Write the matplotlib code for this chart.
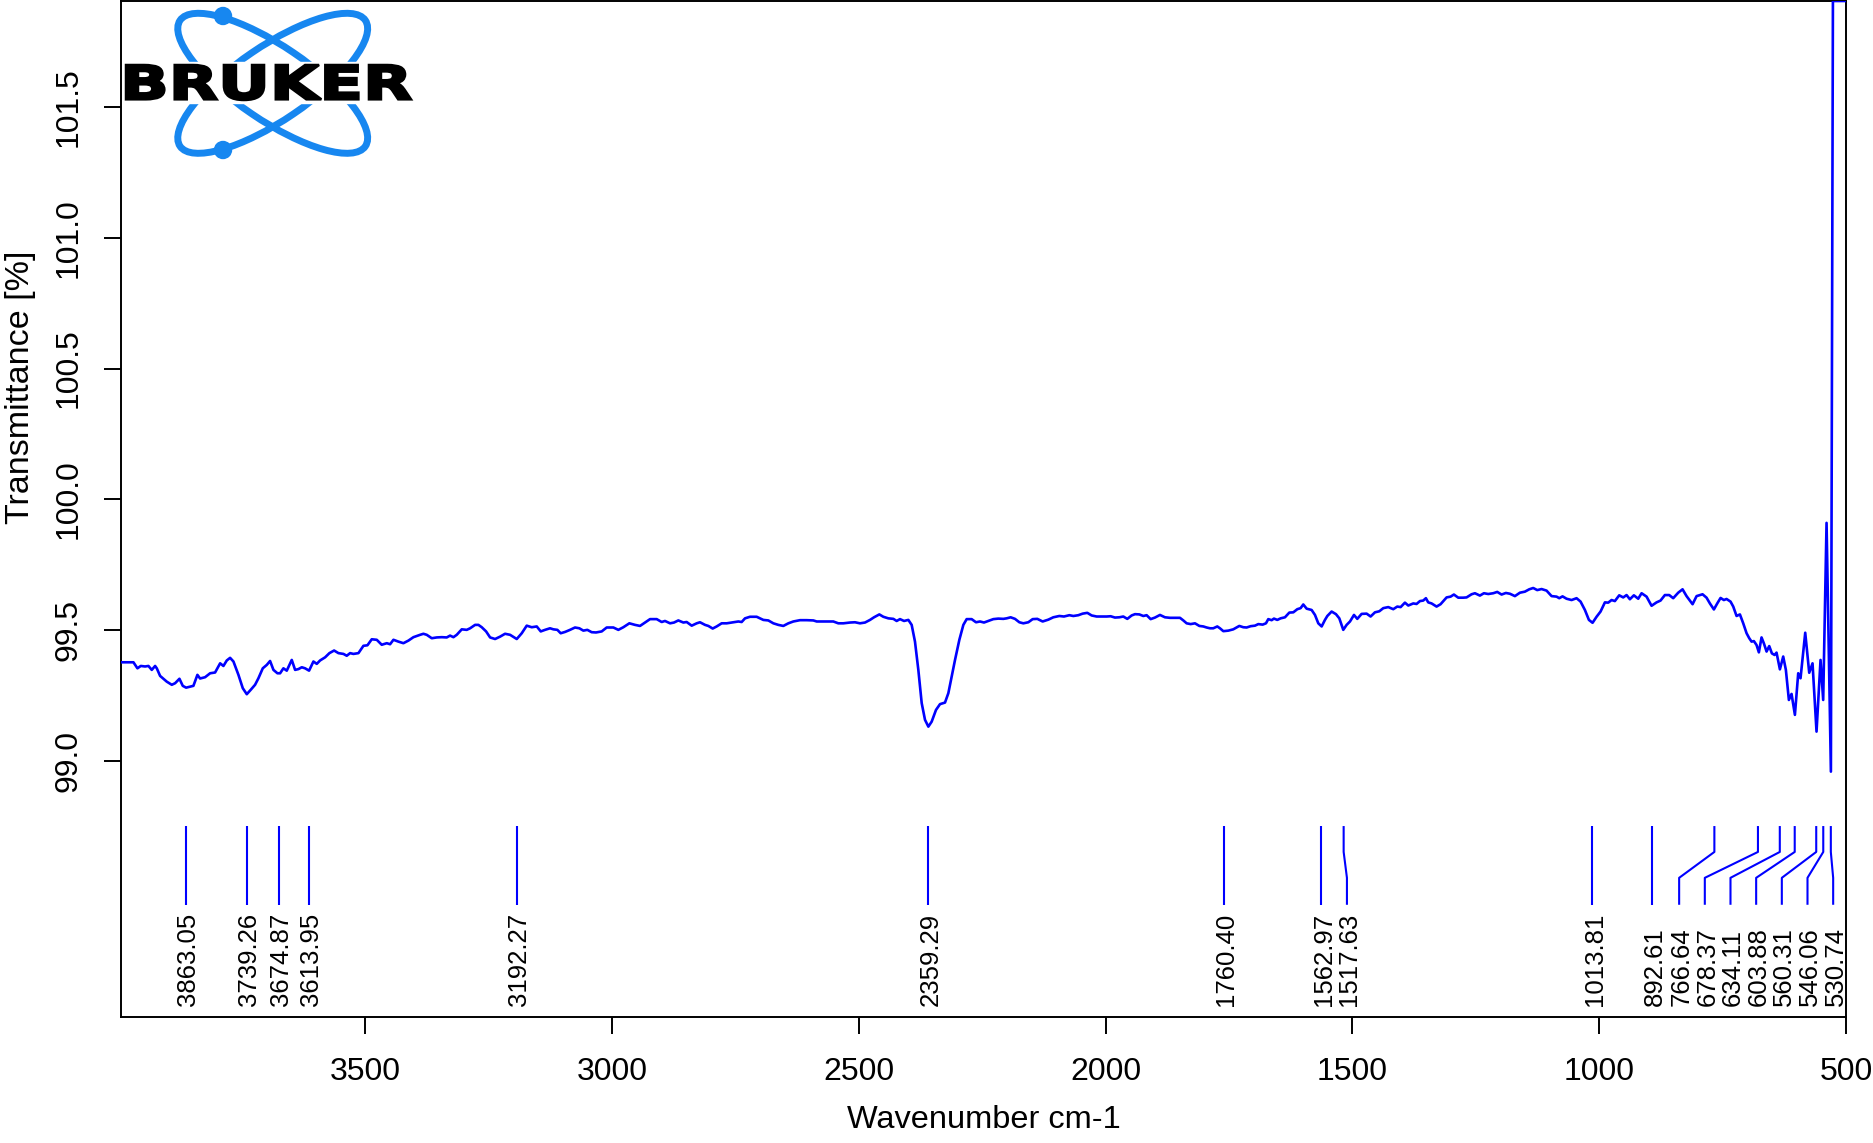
import matplotlib
matplotlib.use("Agg")
import matplotlib.pyplot as plt
from matplotlib.patches import Ellipse, Circle, Rectangle, PathPatch
from matplotlib.textpath import TextPath
from matplotlib.font_manager import FontProperties
from matplotlib.transforms import Affine2D

plt.rcParams['font.family'] = ['Liberation Sans', 'DejaVu Sans']

# ---------------- data ----------------
wavenumber = [
    3996.2, 3969.2, 3961.1, 3954.3, 3945.6, 3938.8, 3932.1, 3925.3, 3921.9, 3915.2,
    3901.7, 3891.5, 3884.8, 3876.0, 3869.3, 3862.5, 3854.4, 3847.7, 3839.6, 3834.2,
    3824.0, 3813.9, 3803.8, 3793.6, 3786.9, 3780.1, 3773.4, 3766.6, 3756.5, 3747.7,
    3739.6, 3731.5, 3722.8, 3716.0, 3707.2, 3699.1, 3692.4, 3685.6, 3677.5, 3672.1,
    3665.4, 3658.6, 3648.5, 3641.7, 3635.0, 3628.2, 3621.5, 3613.4, 3604.6, 3597.8,
    3591.1, 3580.9, 3572.2, 3562.7, 3553.9, 3543.8, 3537.1, 3530.3, 3523.6, 3513.4,
    3503.3, 3495.2, 3486.4, 3476.3, 3466.2, 3456.0, 3449.3, 3442.5, 3432.4, 3422.3,
    3412.1, 3402.0, 3388.5, 3381.8, 3375.0, 3364.9, 3354.8, 3344.6, 3334.5, 3327.8,
    3321.0, 3314.3, 3304.1, 3294.0, 3287.2, 3277.1, 3270.4, 3263.6, 3254.8, 3246.7,
    3236.6, 3226.5, 3216.4, 3206.2, 3192.7, 3182.6, 3172.5, 3162.3, 3152.2, 3144.1,
    3135.4, 3125.3, 3118.5, 3110.4, 3103.7, 3094.9, 3084.8, 3074.7, 3065.9, 3057.8,
    3049.7, 3040.9, 3032.1, 3020.6, 3010.5, 2997.0, 2986.9, 2976.8, 2964.6, 2953.1,
    2943.0, 2932.9, 2922.7, 2909.2, 2899.1, 2892.4, 2882.2, 2874.1, 2865.4, 2855.2,
    2848.5, 2838.3, 2828.2, 2821.5, 2811.3, 2804.6, 2795.8, 2787.7, 2777.6, 2767.4,
    2753.9, 2743.8, 2737.1, 2730.3, 2720.2, 2706.7, 2693.2, 2683.1, 2672.9, 2662.8,
    2652.7, 2642.5, 2632.4, 2618.9, 2605.4, 2591.9, 2585.1, 2575.0, 2564.9, 2551.4,
    2541.3, 2531.1, 2517.6, 2507.5, 2497.4, 2487.2, 2477.1, 2469.0, 2458.2, 2450.1,
    2440.0, 2429.8, 2423.1, 2416.3, 2408.2, 2399.4, 2392.7, 2386.0, 2379.2, 2372.4,
    2365.7, 2358.9, 2352.2, 2343.4, 2335.3, 2325.2, 2318.4, 2311.7, 2304.9, 2296.1,
    2288.0, 2281.3, 2271.2, 2262.4, 2254.3, 2246.2, 2237.4, 2227.3, 2217.2, 2207.0,
    2200.3, 2192.2, 2183.4, 2174.6, 2166.5, 2156.4, 2147.6, 2138.2, 2127.4, 2115.9,
    2105.8, 2093.6, 2084.2, 2073.3, 2065.2, 2055.1, 2046.3, 2036.9, 2028.1, 2018.0,
    2007.9, 1997.7, 1989.6, 1980.9, 1972.1, 1964.0, 1955.9, 1947.1, 1940.3, 1931.5,
    1923.5, 1916.7, 1908.6, 1899.8, 1889.7, 1879.6, 1869.4, 1859.3, 1849.2, 1842.4,
    1835.7, 1827.6, 1818.8, 1810.0, 1801.9, 1795.2, 1788.4, 1781.7, 1773.6, 1768.2,
    1761.4, 1751.3, 1741.2, 1729.0, 1720.9, 1714.2, 1706.0, 1697.3, 1690.5, 1681.7,
    1675.0, 1670.3, 1663.5, 1658.8, 1652.0, 1645.3, 1636.5, 1627.7, 1619.6, 1611.5,
    1604.8, 1599.4, 1592.6, 1582.5, 1575.7, 1569.0, 1562.2, 1555.5, 1550.7, 1542.0,
    1533.2, 1526.4, 1518.4, 1511.6, 1504.8, 1496.7, 1490.0, 1481.2, 1471.1, 1463.0,
    1454.2, 1445.4, 1437.3, 1427.2, 1417.1, 1409.0, 1402.2, 1393.5, 1386.7, 1376.6,
    1369.9, 1363.1, 1356.4, 1351.0, 1346.3, 1339.5, 1329.4, 1321.3, 1309.1, 1301.0,
    1294.3, 1285.5, 1275.4, 1268.6, 1258.5, 1251.7, 1241.6, 1233.5, 1224.7, 1214.6,
    1206.5, 1197.7, 1189.0, 1180.8, 1170.7, 1160.6, 1150.5, 1141.7, 1133.6, 1125.5,
    1116.7, 1106.6, 1096.4, 1086.3, 1080.9, 1074.2, 1066.1, 1055.9, 1045.8, 1037.7,
    1028.9, 1020.8, 1013.4, 1005.3, 997.2, 988.4, 981.7, 974.9, 968.2, 959.4,
    951.3, 944.5, 937.8, 929.7, 920.9, 914.1, 904.0, 893.9, 883.8, 875.7,
    866.9, 858.1, 850.0, 839.9, 831.1, 823.0, 810.8, 802.7, 790.6, 782.5,
    775.7, 767.6, 760.8, 754.1, 747.4, 742.0, 733.9, 728.4, 721.7, 714.9,
    708.2, 701.4, 696.0, 691.3, 686.6, 681.2, 676.5, 671.1, 666.3, 660.9,
    655.5, 650.1, 644.7, 640.7, 633.9, 627.2, 621.8, 615.7, 610.3, 603.5,
    596.8, 592.1, 582.6, 574.5, 567.8, 559.7, 551.6, 546.2, 539.4, 530.6,
    526.5, 500.0,
]

transmittance = [
    99.377, 99.377, 99.354, 99.363, 99.361, 99.363, 99.348, 99.363, 99.354, 99.325,
    99.303, 99.291, 99.297, 99.314, 99.287, 99.280, 99.284, 99.287, 99.329, 99.315,
    99.320, 99.335, 99.338, 99.373, 99.363, 99.384, 99.394, 99.380, 99.329, 99.278,
    99.255, 99.272, 99.291, 99.316, 99.354, 99.367, 99.382, 99.348, 99.335, 99.335,
    99.354, 99.345, 99.386, 99.348, 99.351, 99.358, 99.354, 99.345, 99.380, 99.371,
    99.384, 99.396, 99.412, 99.422, 99.412, 99.409, 99.402, 99.412, 99.409, 99.412,
    99.440, 99.442, 99.465, 99.463, 99.444, 99.450, 99.446, 99.463, 99.456, 99.450,
    99.460, 99.473, 99.482, 99.486, 99.482, 99.469, 99.472, 99.473, 99.472, 99.479,
    99.473, 99.482, 99.503, 99.501, 99.507, 99.520, 99.520, 99.511, 99.495, 99.472,
    99.466, 99.475, 99.486, 99.482, 99.466, 99.488, 99.517, 99.511, 99.514, 99.495,
    99.501, 99.507, 99.503, 99.501, 99.488, 99.493, 99.501, 99.510, 99.507, 99.498,
    99.501, 99.492, 99.491, 99.495, 99.510, 99.510, 99.501, 99.511, 99.526, 99.520,
    99.516, 99.529, 99.542, 99.542, 99.531, 99.535, 99.526, 99.529, 99.537, 99.529,
    99.531, 99.517, 99.526, 99.530, 99.520, 99.516, 99.506, 99.514, 99.526, 99.526,
    99.530, 99.533, 99.531, 99.545, 99.551, 99.551, 99.539, 99.537, 99.526, 99.520,
    99.516, 99.526, 99.533, 99.538, 99.538, 99.537, 99.533, 99.533, 99.533, 99.533,
    99.526, 99.526, 99.529, 99.530, 99.526, 99.529, 99.539, 99.549, 99.560, 99.551,
    99.545, 99.543, 99.535, 99.542, 99.535, 99.539, 99.520, 99.456, 99.348, 99.221,
    99.157, 99.131, 99.150, 99.195, 99.217, 99.223, 99.259, 99.322, 99.386, 99.463,
    99.520, 99.542, 99.542, 99.530, 99.533, 99.529, 99.535, 99.542, 99.544, 99.543,
    99.545, 99.549, 99.543, 99.530, 99.526, 99.530, 99.542, 99.543, 99.533, 99.540,
    99.549, 99.554, 99.552, 99.557, 99.554, 99.557, 99.563, 99.566, 99.556, 99.552,
    99.552, 99.552, 99.553, 99.548, 99.549, 99.552, 99.543, 99.556, 99.561, 99.560,
    99.554, 99.557, 99.542, 99.548, 99.558, 99.549, 99.547, 99.547, 99.547, 99.537,
    99.526, 99.523, 99.526, 99.516, 99.514, 99.510, 99.507, 99.507, 99.514, 99.507,
    99.496, 99.498, 99.503, 99.516, 99.511, 99.510, 99.515, 99.517, 99.523, 99.521,
    99.526, 99.542, 99.538, 99.544, 99.539, 99.545, 99.549, 99.567, 99.568, 99.580,
    99.584, 99.598, 99.582, 99.577, 99.558, 99.526, 99.514, 99.539, 99.554, 99.571,
    99.561, 99.545, 99.501, 99.520, 99.533, 99.558, 99.543, 99.562, 99.563, 99.552,
    99.568, 99.572, 99.584, 99.588, 99.580, 99.590, 99.588, 99.605, 99.594, 99.602,
    99.600, 99.611, 99.613, 99.622, 99.606, 99.602, 99.590, 99.599, 99.625, 99.628,
    99.636, 99.624, 99.624, 99.625, 99.637, 99.641, 99.632, 99.641, 99.638, 99.641,
    99.646, 99.636, 99.642, 99.639, 99.630, 99.643, 99.647, 99.656, 99.661, 99.653,
    99.657, 99.651, 99.630, 99.628, 99.622, 99.629, 99.620, 99.615, 99.622, 99.609,
    99.577, 99.539, 99.528, 99.551, 99.571, 99.606, 99.605, 99.615, 99.611, 99.633,
    99.625, 99.634, 99.618, 99.633, 99.620, 99.641, 99.628, 99.593, 99.606, 99.613,
    99.634, 99.634, 99.622, 99.643, 99.656, 99.630, 99.599, 99.630, 99.637, 99.624,
    99.602, 99.579, 99.602, 99.623, 99.615, 99.619, 99.609, 99.590, 99.554, 99.560,
    99.526, 99.488, 99.469, 99.456, 99.458, 99.443, 99.415, 99.472, 99.449, 99.418,
    99.439, 99.411, 99.405, 99.414, 99.350, 99.399, 99.348, 99.233, 99.256, 99.176,
    99.335, 99.316, 99.490, 99.337, 99.373, 99.112, 99.386, 99.233, 99.910, 98.959,
    101.905, 101.905,
]

peak_positions = [3863.05, 3739.26, 3674.87, 3613.95, 3192.27, 2359.29, 1760.40,
                  1562.97, 1517.63, 1013.81, 892.61, 766.64, 678.37, 634.11,
                  603.88, 560.31, 546.06, 530.74]
x_ticks = [3500, 3000, 2500, 2000, 1500, 1000, 500]
y_ticks = [99.0, 99.5, 100.0, 100.5, 101.0, 101.5]

x_label = "Wavenumber cm-1"
y_label = "Transmittance [%]"

# ---------------- figure ----------------
W, H = 1874, 1143
fig = plt.figure(figsize=(W / 100, H / 100), dpi=100)
ax = fig.add_axes([120.7 / W, 1 - 1017 / H, (1846 - 120.7) / W, 1016 / H])
ax.set_xlim(3995, 500)
ax.set_ylim(98.021, 101.905)

blue = "#0000ff"
ax.plot(wavenumber, transmittance, color=blue, lw=1.9, zorder=3)

# peak markers with de-overlapped labels
spacing = 52.0
right_limit = 500 + spacing / 2
peaks = sorted(peak_positions, reverse=True)
lab = []
for p in peaks:
    lab.append(p if not lab else min(p, lab[-1] - spacing))
for i in range(len(lab) - 1, -1, -1):
    lim = right_limit if i == len(lab) - 1 else lab[i + 1] + spacing
    lab[i] = max(lab[i], lim)

y_top, y_b1, y_b2, y_bot, y_txt = 98.751, 98.652, 98.553, 98.45, 98.063
for p, l in zip(peaks, lab):
    ax.plot([p, p, l, l], [y_top, y_b1, y_b2, y_bot], color=blue, lw=1.5,
            solid_capstyle='butt', zorder=3)
    ax.text(l - 5, y_txt, f"{p:.2f}", rotation=90, ha='center', va='bottom',
            fontsize=18.5, color='black')

ax.set_xticks(x_ticks)
ax.set_xticklabels([str(t) for t in x_ticks])
ax.set_yticks(y_ticks)
ax.set_yticklabels([f"{t:.1f}" for t in y_ticks], rotation=90, va='center')
ax.tick_params(direction='out', length=12.5, width=1.4, labelsize=23, colors='black')
ax.tick_params(axis='x', pad=16)
ax.tick_params(axis='y', pad=14)
for s in ax.spines.values():
    s.set_linewidth(1.4)
    s.set_color('black')

fig.text(983.5 / W, 1 - 1120 / H, x_label, ha='center', va='center', fontsize=23.4)
fig.text(21 / W, 1 - 387 / H, y_label, rotation=90, ha='center', va='center', fontsize=24.5)

# ---------------- logo ----------------
lax = fig.add_axes([0, 0, 1, 1], zorder=5)
lax.set_xlim(0, W)
lax.set_ylim(H, 0)
lax.axis('off')
logo_blue = "#1787f0"
cx, cy = 272.7, 83.3
for ang in (34.2, -34.2):
    lax.add_patch(Ellipse((cx, cy), 224, 74, angle=ang, fill=False,
                          ec=logo_blue, lw=5))
for (dx, dy) in [(223, 16), (223, 150)]:
    lax.add_patch(Circle((dx, dy), 8.5, color=logo_blue))
lax.add_patch(Rectangle((126, 62), 285, 41, color='white'))
tp = TextPath((0, 0), "BRUKER", size=100,
              prop=FontProperties(family='DejaVu Sans', weight='bold'))
ext = tp.get_extents()
tr = (Affine2D().translate(-ext.x0, -ext.y0)
      .scale(285 / ext.width, -35 / ext.height).translate(126, 100))
lax.add_patch(PathPatch(tr.transform_path(tp), fc='black', ec='black', lw=1.8))

fig.savefig("out.png", dpi=100)
